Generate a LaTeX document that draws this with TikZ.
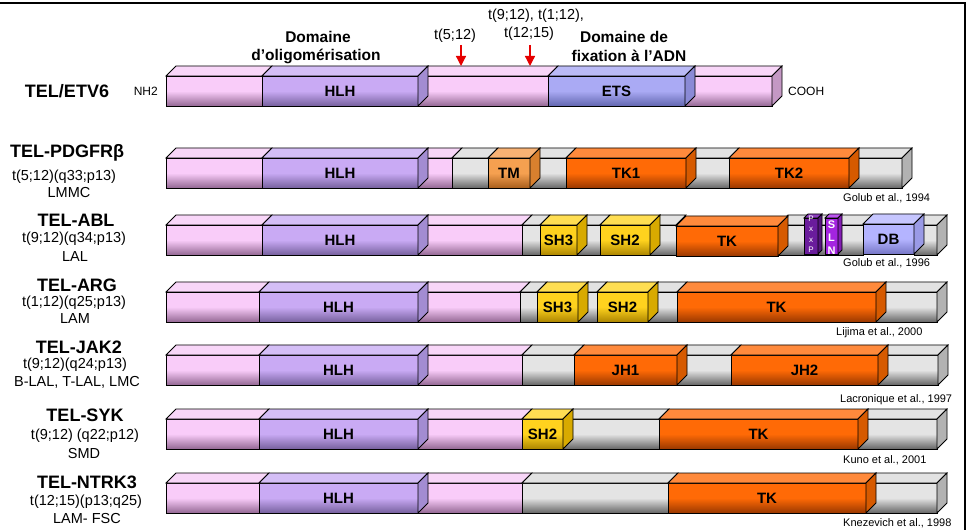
\documentclass[tikz,border=0pt]{standalone}
\usepackage{fontspec}
\setmainfont{Liberation Sans}
\usetikzlibrary{arrows.meta}
\definecolor{pinkL}{HTML}{F9CCF9}\definecolor{pinkD}{HTML}{946894}\definecolor{pinkT}{HTML}{F8D6F8}\definecolor{pinkS}{HTML}{C498C4}
\definecolor{hlhL}{HTML}{C9AAF4}\definecolor{hlhD}{HTML}{76609E}\definecolor{hlhT}{HTML}{D4BEF6}\definecolor{hlhS}{HTML}{A38CD2}
\definecolor{etsL}{HTML}{AAAAF4}\definecolor{etsD}{HTML}{6266B0}\definecolor{etsT}{HTML}{BABAF6}\definecolor{etsS}{HTML}{8A8AD6}
\definecolor{grayL}{HTML}{E4E4E4}\definecolor{grayD}{HTML}{666666}\definecolor{grayT}{HTML}{E2E2E2}\definecolor{grayS}{HTML}{B2B2B2}
\definecolor{tkL}{HTML}{FF6A06}\definecolor{tkD}{HTML}{9A3800}\definecolor{tkT}{HTML}{FF8A3C}\definecolor{tkS}{HTML}{D65A00}
\definecolor{tmL}{HTML}{F5A050}\definecolor{tmD}{HTML}{A85E1C}\definecolor{tmT}{HTML}{F8B274}\definecolor{tmS}{HTML}{D8802E}
\definecolor{shL}{HTML}{FFD21E}\definecolor{shD}{HTML}{AC8600}\definecolor{shT}{HTML}{FFDE52}\definecolor{shS}{HTML}{D8AA00}
\definecolor{dbL}{HTML}{B4B4FF}\definecolor{dbD}{HTML}{7676C6}\definecolor{dbT}{HTML}{C6C6FF}\definecolor{dbS}{HTML}{9A9AE6}
\definecolor{pxpC}{HTML}{6A1C9C}\definecolor{pxpT}{HTML}{8A3CBC}
\definecolor{slnC}{HTML}{A424E0}\definecolor{slnT}{HTML}{BC54F0}
\definecolor{arrred}{HTML}{E60000}
\newcommand\segbox[4]{%
  \shade[top color=#4L,bottom color=#4D,middle color=#4L] (#1,-#3) rectangle (#2,-#3-30);
  \draw[edge] (#1,-#3) rectangle (#2,-#3-30);
  \draw[edge,fill=#4T] (#1,-#3) -- (#1+10,-#3+10) -- (#2+10,-#3+10) -- (#2,-#3) -- cycle;}
\newcommand\sidebox[3]{%
  \draw[edge,fill=#3S] (#1,-#2) -- (#1+10,-#2+10) -- (#1+10,-#2-20) -- (#1,-#2-30) -- cycle;}
\newcommand\dombox[6]{%
  \segbox{#1}{#2}{#3}{#4}\sidebox{#2}{#3}{#4}
  \node[domlbl] (#6) at ({(#1+#2)/2},-#3-15) {#5};}
\newcommand\tallbox[6]{% x1 x2 ytop ybot front top
  \draw[edge,fill=#5] (#1,-#3) rectangle (#2,-#4);
  \draw[edge,fill=#6] (#1,-#3) -- (#1+4,-#3+4) -- (#2+4,-#3+4) -- (#2,-#3) -- cycle;
  \draw[edge,fill=#5!80!black] (#2,-#3) -- (#2+4,-#3+4) -- (#2+4,-#4+4) -- (#2,-#4) -- cycle;}
\tikzset{
  edge/.style={draw=black,line width=0.8bp},
  domlbl/.style={font=\fontsize{15bp}{17bp}\selectfont\bfseries,inner sep=0pt},
  genename/.style={font=\fontsize{18bp}{20bp}\selectfont\bfseries,inner sep=0pt},
  subl/.style={font=\fontsize{14.5bp}{16bp}\selectfont,inner sep=0pt},
  cite/.style={font=\fontsize{11bp}{13bp}\selectfont,inner sep=0pt,anchor=west},
  head/.style={font=\fontsize{15.5bp}{18bp}\selectfont\bfseries,inner sep=0pt},
  tlbl/.style={font=\fontsize{14.5bp}{16bp}\selectfont,inner sep=0pt},
  endlbl/.style={font=\fontsize{12bp}{14bp}\selectfont,inner sep=0pt},
  redarrow/.style={draw=arrred,line width=1.3bp,-{Triangle[width=10bp,length=10bp]}},
}
\begin{document}
\begin{tikzpicture}[x=1bp,y=1bp]
\useasboundingbox[fill=white] (0,0) rectangle (977,-530);
\draw[line width=1.5bp] (0,-3) -- (965,-3) -- (965,-530);

% ---------- Row 1 : TEL/ETV6
\segbox{166}{262}{76}{pink}\segbox{418}{548}{76}{pink}\segbox{685}{772}{76}{pink}\sidebox{772}{76}{pink}
\dombox{262}{418}{76}{hlh}{HLH}{hlh1}
\dombox{548}{685}{76}{ets}{ETS}{ets1}
\node[genename] (g1) at (67,-91) {TEL/ETV6};
\node[endlbl,anchor=east] (nh2) at (158,-91) {NH2};
\node[endlbl,anchor=west] (cooh) at (788,-91) {COOH};
\node[head] (dom1a) at (318,-37) {Domaine};
\node[head] (dom1b) at (316,-56) {d’oligomérisation};
\node[head] (dom2a) at (624,-37) {Domaine de};
\node[head] (dom2b) at (629,-56) {fixation à l’ADN};
\node[tlbl] (t512) at (455,-36) {t(5;12)};
\node[tlbl] (t912) at (536,-16) {t(9;12), t(1;12),};
\node[tlbl] (t1215) at (529,-34) {t(12;15)};
\coordinate (a1s) at (461,-45);\coordinate (a1e) at (461,-66);
\coordinate (a2s) at (530,-45);\coordinate (a2e) at (530,-66);
\draw[redarrow] (a1s) -- (a1e);
\draw[redarrow] (a2s) -- (a2e);

% ---------- Row 2 : TEL-PDGFRb
\segbox{166}{262}{158}{pink}\segbox{418}{452}{158}{pink}\segbox{452}{488}{158}{gray}
\segbox{530}{566}{158}{gray}\segbox{686}{729}{158}{gray}\segbox{849}{902}{158}{gray}\sidebox{902}{158}{gray}
\dombox{262}{418}{158}{hlh}{HLH}{hlh2}
\dombox{488}{530}{158}{tm}{TM}{tm2}
\dombox{566}{686}{158}{tk}{TK1}{tk12}
\dombox{729}{849}{158}{tk}{TK2}{tk22}
\node[genename] (g2) at (67,-153) {TEL-PDGFRβ};
\node[subl] (s2a) at (64,-177) {t(5;12)(q33;p13)};
\node[subl] (s2b) at (69,-193) {LMMC};
\node[cite] (c2) at (843,-198) {Golub et al., 1994};

% ---------- Row 3 : TEL-ABL
\segbox{166}{262}{225}{pink}\segbox{418}{522}{225}{pink}\segbox{522}{540}{225}{gray}
\segbox{577}{600}{225}{gray}\segbox{650}{676}{225}{gray}\segbox{778}{863}{225}{gray}
\segbox{914}{937}{225}{gray}\sidebox{937}{225}{gray}
\dombox{262}{418}{225}{hlh}{HLH}{hlh3}
\dombox{540}{577}{225}{sh}{SH3}{sh33}
\dombox{600}{650}{225}{sh}{SH2}{sh23}
\dombox{676}{778}{226}{tk}{TK}{tk3}
\dombox{863}{914}{224}{db}{DB}{db3}
\tallbox{804}{818}{218}{254}{pxpC}{pxpT}
\tallbox{825}{838}{218}{254}{slnC}{slnT}
\node[font=\fontsize{8bp}{10.5bp}\selectfont,text=white,align=center,inner sep=0pt] (pxp) at (811,-234) {P\\x\\x\\P};
\node[font=\fontsize{11bp}{13bp}\selectfont\bfseries,text=white,align=center,inner sep=0pt] (sln) at (831.5,-238) {S\\L\\N};
\node[genename] (g3) at (76,-220) {TEL-ABL};
\node[subl] (s3a) at (74,-239) {t(9;12)(q34;p13)};
\node[subl] (s3b) at (75,-257) {LAL};
\node[cite] (c3) at (843,-263) {Golub et al., 1996};

% ---------- Row 4 : TEL-ARG
\segbox{166}{259}{292}{pink}\segbox{418}{520}{292}{pink}\segbox{520}{537}{292}{gray}
\segbox{578}{597}{292}{gray}\segbox{648}{677}{292}{gray}\segbox{876}{937}{292}{gray}\sidebox{937}{292}{gray}
\dombox{259}{418}{292}{hlh}{HLH}{hlh4}
\dombox{537}{578}{292}{sh}{SH3}{sh34}
\dombox{597}{648}{292}{sh}{SH2}{sh24}
\dombox{677}{876}{292}{tk}{TK}{tk4}
\node[genename] (g4) at (77,-285) {TEL-ARG};
\node[subl] (s4a) at (74,-303) {t(1;12)(q25;p13)};
\node[subl] (s4b) at (75,-319) {LAM};
\node[cite] (c4) at (836,-333) {Lijima et al., 2000};

% ---------- Row 5 : TEL-JAK2
\segbox{166}{259}{355}{pink}\segbox{418}{522}{355}{pink}\segbox{522}{574}{355}{gray}
\segbox{677}{731}{355}{gray}\segbox{878}{938}{355}{gray}\sidebox{938}{355}{gray}
\dombox{259}{418}{355}{hlh}{HLH}{hlh5}
\dombox{574}{677}{355}{tk}{JH1}{jh15}
\dombox{731}{878}{355}{tk}{JH2}{jh25}
\node[genename] (g5) at (79,-347) {TEL-JAK2};
\node[subl] (s5a) at (75,-365) {t(9;12)(q24;p13)};
\node[subl] (s5b) at (77,-382) {B-LAL, T-LAL, LMC};
\node[cite] (c5) at (840,-400) {Lacronique et al., 1997};

% ---------- Row 6 : TEL-SYK
\segbox{166}{259}{419}{pink}\segbox{418}{522}{419}{pink}\segbox{563}{659}{419}{gray}
\segbox{858}{937}{419}{gray}\sidebox{937}{419}{gray}
\dombox{259}{418}{419}{hlh}{HLH}{hlh6}
\dombox{522}{563}{419}{sh}{SH2}{sh26}
\dombox{659}{858}{419}{tk}{TK}{tk6}
\node[genename] (g6) at (85,-415) {TEL-SYK};
\node[subl] (s6a) at (85,-436) {t(9;12) (q22;p12)};
\node[subl] (s6b) at (84,-454) {SMD};
\node[cite] (c6) at (843,-460) {Kuno et al., 2001};

% ---------- Row 7 : TEL-NTRK3
\segbox{166}{259}{483}{pink}\segbox{418}{522}{483}{pink}\segbox{522}{668}{483}{gray}
\segbox{866}{937}{483}{gray}\sidebox{937}{483}{gray}
\dombox{259}{418}{483}{hlh}{HLH}{hlh7}
\dombox{668}{866}{483}{tk}{TK}{tk7}
\node[genename] (g7) at (87,-482) {TEL-NTRK3};
\node[subl] (s7a) at (86,-502) {t(12;15)(p13;q25)};
\node[subl] (s7b) at (87,-519) {LAM- FSC};
\node[cite] (c7) at (843,-523) {Knezevich et al., 1998};
\end{tikzpicture}
\end{document}
